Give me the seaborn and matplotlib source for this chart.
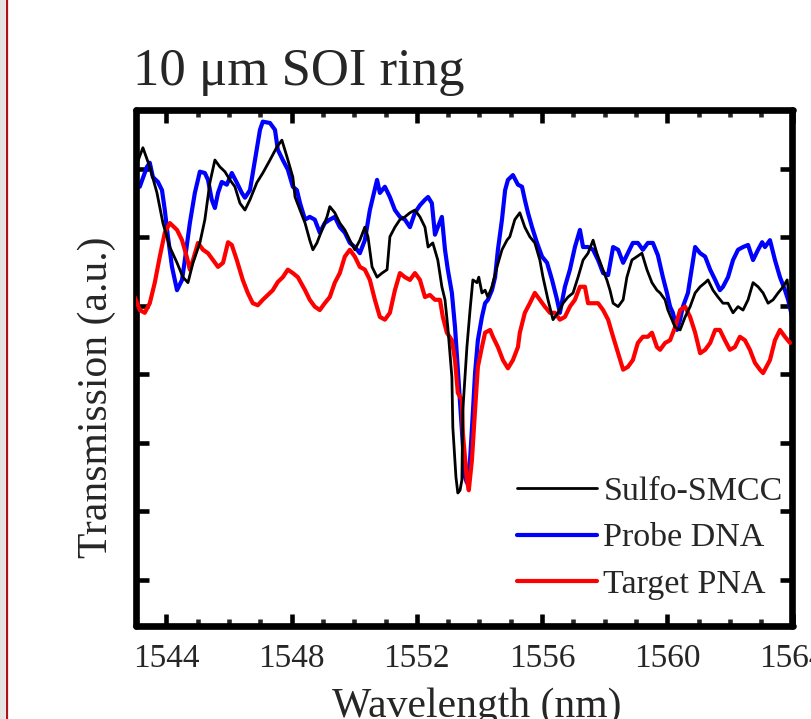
import matplotlib
matplotlib.use("Agg")
import matplotlib.pyplot as plt
from matplotlib.lines import Line2D
from matplotlib.patches import Rectangle
from matplotlib.ticker import MultipleLocator, NullFormatter
import seaborn as sns
import pandas as pd

# ---- data (wavelength in nm, transmission in a.u.) ----
sulfo_wl = [1542.99, 1543.25, 1543.47, 1543.70, 1543.89, 1544.11, 1544.34, 1544.53, 1544.69, 1544.85,
            1545.07, 1545.23, 1545.39, 1545.55, 1545.71, 1545.87, 1546.03, 1546.19, 1546.35, 1546.51,
            1546.67, 1546.89, 1547.08, 1547.31, 1547.53, 1547.69, 1547.85, 1548.04, 1548.11, 1548.27,
            1548.43, 1548.58, 1548.68, 1548.81, 1548.97, 1549.13, 1549.22, 1549.38, 1549.54, 1549.70,
            1549.86, 1550.02, 1550.18, 1550.34, 1550.44, 1550.57, 1550.73, 1550.89, 1551.05, 1551.14,
            1551.30, 1551.46, 1551.62, 1551.78, 1551.94, 1552.10, 1552.26, 1552.36, 1552.51, 1552.67,
            1552.80, 1552.90, 1552.99, 1553.12, 1553.15, 1553.25, 1553.31, 1553.38, 1553.44, 1553.47,
            1553.60, 1553.70, 1553.79, 1553.92, 1553.98, 1554.08, 1554.18, 1554.27, 1554.40, 1554.56,
            1554.72, 1554.88, 1554.97, 1555.13, 1555.29, 1555.45, 1555.61, 1555.77, 1555.93, 1556.03,
            1556.19, 1556.35, 1556.51, 1556.67, 1556.83, 1556.99, 1557.15, 1557.31, 1557.47, 1557.63,
            1557.75, 1557.91, 1558.07, 1558.17, 1558.27, 1558.43, 1558.59, 1558.71, 1558.87, 1559.03,
            1559.19, 1559.35, 1559.51, 1559.67, 1559.77, 1559.93, 1560.02, 1560.15, 1560.25, 1560.41,
            1560.57, 1560.73, 1560.89, 1561.05, 1561.21, 1561.30, 1561.46, 1561.62, 1561.78, 1561.94,
            1562.10, 1562.26, 1562.42, 1562.58, 1562.74, 1562.90, 1563.06, 1563.22, 1563.38, 1563.54,
            1563.70, 1563.83, 1563.92]
sulfo_tr = [6.99, 7.31, 7.03, 6.65, 6.21, 5.86, 5.63, 5.42, 5.34, 5.63,
            5.92, 6.26, 6.80, 7.13, 7.03, 6.96, 6.84, 6.74, 6.50, 6.40,
            6.55, 6.80, 6.94, 7.13, 7.32, 7.42, 7.18, 6.88, 6.59, 6.40,
            6.21, 5.96, 5.82, 5.92, 6.11, 6.30, 6.45, 6.36, 6.21, 6.11,
            5.96, 5.82, 5.96, 6.15, 6.01, 5.57, 5.42, 5.48, 5.53, 6.01,
            6.15, 6.26, 6.30, 6.36, 6.40, 6.30, 6.15, 5.86, 5.92, 5.67,
            5.28, 5.09, 4.69, 3.96, 3.23, 2.50, 2.27, 2.31, 2.46, 3.48,
            4.40, 4.94, 5.38, 5.34, 5.42, 5.19, 5.23, 5.13, 5.28, 5.57,
            5.82, 5.96, 6.01, 6.26, 6.36, 6.15, 6.01, 5.92, 5.67, 5.42,
            5.09, 4.80, 4.90, 5.04, 5.13, 5.19, 5.42, 5.67, 5.77, 5.96,
            5.77, 5.57, 5.38, 5.23, 5.04, 4.99, 5.09, 5.42, 5.67, 5.72,
            5.77, 5.53, 5.34, 5.23, 5.19, 5.09, 4.94, 4.80, 4.69, 4.65,
            4.84, 4.99, 5.19, 5.28, 5.34, 5.38, 5.23, 5.13, 5.04, 5.04,
            4.90, 4.99, 4.94, 5.09, 5.34, 5.28, 5.19, 5.04, 5.09, 5.19,
            5.28, 5.38, 4.99]

probe_wl = [1542.99, 1543.15, 1543.38, 1543.47, 1543.57, 1543.73, 1543.86, 1543.95, 1544.05, 1544.18,
            1544.34, 1544.50, 1544.59, 1544.75, 1544.91, 1545.07, 1545.23, 1545.33, 1545.45, 1545.55,
            1545.65, 1545.77, 1545.93, 1546.09, 1546.25, 1546.41, 1546.51, 1546.67, 1546.83, 1546.99,
            1547.08, 1547.31, 1547.47, 1547.56, 1547.72, 1547.88, 1548.04, 1548.17, 1548.27, 1548.43,
            1548.58, 1548.74, 1548.90, 1549.06, 1549.22, 1549.38, 1549.54, 1549.70, 1549.86, 1550.02,
            1550.18, 1550.34, 1550.50, 1550.60, 1550.73, 1550.82, 1550.98, 1551.14, 1551.30, 1551.46,
            1551.62, 1551.78, 1551.94, 1552.10, 1552.26, 1552.36, 1552.48, 1552.58, 1552.67, 1552.80,
            1552.90, 1552.99, 1553.12, 1553.22, 1553.31, 1553.44, 1553.54, 1553.60, 1553.70, 1553.79,
            1553.86, 1553.95, 1554.08, 1554.18, 1554.27, 1554.40, 1554.50, 1554.59, 1554.72, 1554.82,
            1554.91, 1555.07, 1555.23, 1555.36, 1555.45, 1555.55, 1555.68, 1555.84, 1556.00, 1556.16,
            1556.32, 1556.48, 1556.57, 1556.73, 1556.89, 1557.05, 1557.21, 1557.31, 1557.47, 1557.63,
            1557.79, 1557.95, 1558.11, 1558.27, 1558.43, 1558.59, 1558.74, 1558.90, 1559.06, 1559.22,
            1559.38, 1559.54, 1559.70, 1559.86, 1559.99, 1560.09, 1560.18, 1560.31, 1560.41, 1560.50,
            1560.66, 1560.79, 1560.89, 1561.05, 1561.21, 1561.37, 1561.53, 1561.68, 1561.78, 1561.94,
            1562.10, 1562.26, 1562.42, 1562.58, 1562.74, 1562.90, 1563.03, 1563.12, 1563.28, 1563.44,
            1563.60, 1563.76, 1563.86, 1563.99]
probe_tr = [6.84, 6.74, 7.03, 7.09, 6.88, 6.81, 6.69, 6.40, 6.01, 5.57,
            5.23, 5.38, 5.67, 6.21, 6.65, 6.96, 6.94, 6.84, 6.55, 6.43,
            6.65, 6.81, 6.77, 6.94, 6.80, 6.65, 6.58, 6.69, 7.13, 7.57,
            7.69, 7.67, 7.57, 7.28, 7.13, 6.99, 6.74, 6.69, 6.50, 6.26,
            6.30, 6.26, 6.07, 6.21, 6.26, 6.30, 6.15, 6.07, 5.92, 5.86,
            5.77, 5.96, 6.40, 6.59, 6.84, 6.65, 6.74, 6.59, 6.40, 6.30,
            6.26, 6.15, 6.36, 6.47, 6.55, 6.59, 6.50, 6.04, 6.15, 6.30,
            5.82, 5.53, 5.19, 4.69, 4.07, 3.15, 2.50, 2.42, 2.75, 3.44,
            4.02, 4.50, 4.84, 5.04, 5.09, 5.23, 5.42, 5.82, 6.26, 6.69,
            6.84, 6.91, 6.77, 6.74, 6.55, 6.36, 6.15, 5.92, 5.72, 5.63,
            5.38, 5.09, 4.90, 5.28, 5.53, 5.86, 6.11, 5.86, 5.86, 5.82,
            5.67, 5.48, 5.45, 5.86, 5.82, 5.63, 5.77, 5.92, 5.92, 5.82,
            5.92, 5.92, 5.74, 5.42, 5.19, 4.99, 4.90, 4.65, 4.80, 4.99,
            5.19, 5.57, 5.86, 5.77, 5.72, 5.53, 5.38, 5.23, 5.28, 5.42,
            5.67, 5.82, 5.86, 5.89, 5.67, 5.82, 5.93, 5.86, 5.96, 5.67,
            5.42, 5.23, 5.09, 4.84]

target_wl = [1542.99, 1543.15, 1543.31, 1543.47, 1543.63, 1543.79, 1543.95, 1544.11, 1544.34, 1544.50,
             1544.65, 1544.75, 1544.85, 1545.01, 1545.17, 1545.33, 1545.49, 1545.65, 1545.81, 1545.97,
             1546.09, 1546.25, 1546.44, 1546.60, 1546.76, 1546.92, 1547.08, 1547.24, 1547.40, 1547.56,
             1547.72, 1547.88, 1548.04, 1548.20, 1548.43, 1548.58, 1548.74, 1548.90, 1549.06, 1549.22,
             1549.38, 1549.54, 1549.70, 1549.86, 1550.02, 1550.18, 1550.34, 1550.50, 1550.66, 1550.82,
             1550.98, 1551.14, 1551.30, 1551.46, 1551.62, 1551.78, 1551.94, 1552.10, 1552.26, 1552.42,
             1552.58, 1552.74, 1552.83, 1552.96, 1553.12, 1553.22, 1553.31, 1553.44, 1553.47, 1553.60,
             1553.66, 1553.76, 1553.86, 1553.95, 1554.08, 1554.18, 1554.34, 1554.43, 1554.59, 1554.75,
             1554.91, 1555.07, 1555.23, 1555.29, 1555.45, 1555.61, 1555.77, 1555.93, 1556.09, 1556.25,
             1556.41, 1556.57, 1556.73, 1556.89, 1557.05, 1557.21, 1557.37, 1557.47, 1557.63, 1557.79,
             1557.95, 1558.11, 1558.27, 1558.43, 1558.59, 1558.74, 1558.90, 1559.06, 1559.22, 1559.38,
             1559.51, 1559.67, 1559.77, 1559.93, 1560.09, 1560.25, 1560.41, 1560.57, 1560.73, 1560.89,
             1561.05, 1561.21, 1561.37, 1561.53, 1561.68, 1561.84, 1562.00, 1562.16, 1562.32, 1562.48,
             1562.64, 1562.80, 1562.96, 1563.06, 1563.28, 1563.44, 1563.60, 1563.76, 1563.92]
target_tr = [5.13, 4.94, 4.90, 5.04, 5.34, 5.72, 6.07, 6.21, 6.11, 5.96,
             5.72, 5.53, 5.67, 5.92, 5.82, 5.77, 5.67, 5.57, 5.63, 5.93,
             5.89, 5.67, 5.38, 5.19, 5.04, 5.01, 5.09, 5.16, 5.23, 5.35,
             5.42, 5.53, 5.48, 5.42, 5.23, 5.09, 4.99, 4.94, 5.04, 5.13,
             5.34, 5.48, 5.72, 5.82, 5.72, 5.57, 5.53, 5.38, 5.09, 4.84,
             4.80, 4.90, 5.23, 5.48, 5.42, 5.38, 5.48, 5.38, 5.13, 5.16,
             5.09, 5.09, 4.84, 4.61, 4.50, 4.21, 3.73, 3.63, 3.15, 2.46,
             2.31, 2.75, 3.48, 4.11, 4.40, 4.61, 4.65, 4.55, 4.40, 4.21,
             4.09, 4.21, 4.40, 4.61, 4.90, 5.04, 5.19, 5.09, 4.99, 4.90,
             4.90, 4.80, 4.84, 4.99, 5.09, 5.28, 5.28, 5.04, 5.04, 5.04,
             4.94, 4.80, 4.55, 4.31, 4.07, 4.11, 4.21, 4.46, 4.55, 4.55,
             4.61, 4.40, 4.36, 4.46, 4.50, 4.69, 4.94, 4.99, 4.84, 4.61,
             4.31, 4.36, 4.46, 4.65, 4.65, 4.50, 4.36, 4.40, 4.55, 4.50,
             4.36, 4.17, 4.07, 4.02, 4.21, 4.50, 4.65, 4.55, 4.46]

series_names = ["Sulfo-SMCC", "Probe DNA", "Target PNA"]
series_colors = ["#000000", "#0000ff", "#ff0000"]
x_major_ticks = [1544, 1548, 1552, 1556, 1560, 1564]
title_text = "10 \u03bcm SOI ring"
xlabel_text = "Wavelength (nm)"
ylabel_text = "Transmission (a.u.)"

# ---- figure ----
sns.set_style("ticks")
plt.rcParams["font.family"] = ["Liberation Serif", "DejaVu Serif"]

fig = plt.figure(figsize=(8.12, 7.19), dpi=100)
ax = fig.add_axes([136 / 812, 1 - 625.5 / 719, 656.5 / 812, 515.5 / 719])

frames = [
    pd.DataFrame({"wl": sulfo_wl, "tr": sulfo_tr}),
    pd.DataFrame({"wl": probe_wl, "tr": probe_tr}),
    pd.DataFrame({"wl": target_wl, "tr": target_tr}),
]
widths = [2.0, 3.0, 3.0]
zorders = [3.2, 2.0, 2.6]
handles = []
for df, name, col, lw, zo in zip(frames, series_names, series_colors, widths, zorders):
    sns.lineplot(data=df, x="wl", y="tr", ax=ax, color=col, linewidth=lw,
                 estimator=None, sort=False, legend=False)
    ax.lines[-1].set_zorder(zo)
    ax.lines[-1].set_solid_joinstyle("round")
    handles.append(Line2D([], [], color=col, linewidth=lw))

ax.set_xlim(1543.03, 1564.0)
ax.set_ylim(0.336, 7.86)
ax.set_xticks(x_major_ticks)
ax.xaxis.set_minor_locator(MultipleLocator(1))
ax.set_yticks([1, 2, 3, 4, 5, 6, 7])
ax.yaxis.set_major_formatter(NullFormatter())
ax.set_xlabel("")
ax.set_ylabel("")

for s in ax.spines.values():
    s.set_linewidth(4.8)
    s.set_color("black")
    s.set_capstyle("round")

ax.tick_params(axis="both", which="major", direction="in", length=9, width=3.3,
               top=True, right=True, labelsize=24, pad=13, color="black")
ax.tick_params(axis="both", which="minor", direction="in", length=5, width=3.3,
               top=True, right=True)

leg = ax.legend(handles, series_names, loc="lower right", bbox_to_anchor=(0.985, 0.049),
                frameon=False, fontsize=24.5, handlelength=2.35, handletextpad=0.18,
                labelspacing=0.47, borderpad=0.0, borderaxespad=0.0)

fig.text(133 / 812, 1 - 85 / 719, title_text, fontsize=38, ha="left", va="baseline")
fig.text(477 / 812, 1 - 717 / 719, xlabel_text, fontsize=30, ha="center", va="baseline")
fig.text(97 / 812, 1 - 397 / 719, ylabel_text, fontsize=30, ha="center", va="center",
         rotation=90)

# page edge at the left
fig.patches.append(Rectangle((0, 0), 5 / 812, 1, transform=fig.transFigure,
                             facecolor="#e4e4e4", edgecolor="none"))
fig.lines.append(Line2D([6.5 / 812, 6.5 / 812], [0, 1], transform=fig.transFigure,
                        color="#b0101c", linewidth=1.6))

fig.savefig("out.png", dpi=100)
